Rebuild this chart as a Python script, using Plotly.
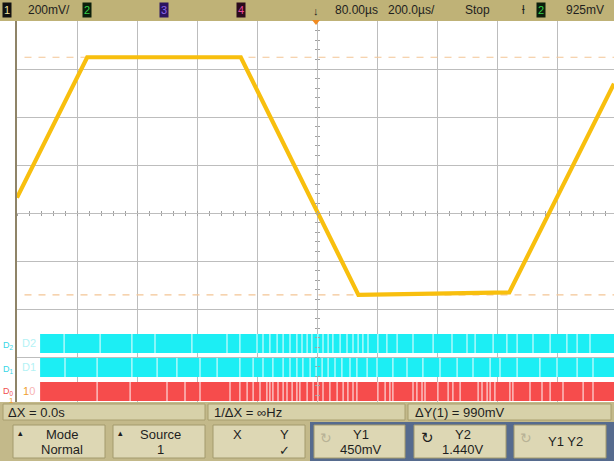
import plotly.graph_objects as go

W, H = 614, 461

# channel 1 analog trace: time [us], volts
t_us  = [-1000, -766, -254, 138, 641, 990]
ch1_v = [0.855, 1.44, 1.44, 0.45, 0.46, 1.33]

# Y cursors [V]
cursor_y1 = 0.45
cursor_y2 = 1.44

# digital channels: record window and edge times [us]
dig_t0, dig_t1 = -923, 990
d2_edges = [-843, -723, -617, -540, -417, -300, -257, -200, -180, -157, -133, -113, -90, -67, -50,
            -33, -17, 3, 20, 37, 53, 77, 100, 120, 137, 153, 170, 203, 233, 267, 320, 387, 450,
            500, 527, 587, 633, 667, 720, 777, 833, 867, 910]
d1_edges = [-840, -733, -617, -533, -467, -390, -333, -257, -213, -180, -147, -113, -90, -67, -47,
            -23, -3, 17, 37, 60, 83, 110, 133, 167, 200, 253, 300, 353, 410, 467, 520, 577, 610,
            667, 743, 800, 867, 920]
d0_edges = [-733, -623, -500, -440, -390, -290, -257, -233, -213, -190, -167, -157, -147, -130,
            -113, -100, -83, -67, -57, -33, -13, 3, 20, 43, 67, 87, 103, 120, 133, 203, 227, 243,
            253, 320, 333, 350, 360, 403, 437, 453, 477, 537, 550, 567, 577, 593, 643, 653, 710,
            750, 777, 820, 887, 920]
lanes = [("D0", 0, d0_edges, "#f64c4c"), ("D1", 1, d1_edges, "#1ceef4"), ("D2", 2, d2_edges, "#1ceef4")]

FONT = "Liberation Sans Narrow, Arial Narrow, Liberation Sans, sans-serif"

def px(x):
    return x / W

def py(y):
    return 1 - y / H

fig = go.Figure()

# digital lanes (drawn first, under the analog trace)
for name, lane, edges, col in lanes:
    lo, hi = lane - 0.4, lane + 0.4
    fig.add_trace(go.Scatter(x=[dig_t0, dig_t1, dig_t1, dig_t0, dig_t0], y=[lo, lo, hi, hi, lo],
                             fill="toself", fillcolor=col, mode="lines", line=dict(width=0),
                             yaxis="y2", hoverinfo="skip", showlegend=False))
    ex, ey = [], []
    for e in edges:
        ex += [e, e, None]
        ey += [lo, hi, None]
    fig.add_trace(go.Scatter(x=ex, y=ey, mode="lines", line=dict(color="rgba(255,255,255,0.8)", width=1.2),
                             yaxis="y2", hoverinfo="skip", showlegend=False))

# cursors
for cv in [cursor_y1, cursor_y2]:
    fig.add_trace(go.Scatter(x=[-975, 990], y=[cv, cv], mode="lines",
                             line=dict(color="#f3c595", width=1.2, dash="7px,7px"),
                             hoverinfo="skip", showlegend=False))

# channel 1
fig.add_trace(go.Scatter(x=t_us, y=ch1_v, mode="lines", line=dict(color="#f8bf0e", width=4.2),
                         showlegend=False))

# empty traces so the centre tick axes get drawn
for xa, ya in [("x2", "y"), ("x3", "y"), ("x", "y3"), ("x", "y4")]:
    fig.add_trace(go.Scatter(x=[], y=[], xaxis=xa, yaxis=ya, showlegend=False, hoverinfo="skip"))

xr = [-1000, 990]
yr = [-0.009, 1.591]
xdom = [px(17), 1]
ydom = [py(405), py(21)]

fig.update_layout(
    width=W, height=H, margin=dict(l=0, r=0, t=0, b=0),
    paper_bgcolor="white", plot_bgcolor="white",
    xaxis=dict(domain=xdom, range=xr, tick0=0, dtick=200, showgrid=True, gridcolor="#bdbdbd",
               gridwidth=1, zeroline=False, showticklabels=False, ticks=""),
    yaxis=dict(domain=ydom, range=yr, tick0=0.791, dtick=0.2, showgrid=True, gridcolor="#bdbdbd",
               gridwidth=1, zeroline=False, showticklabels=False, ticks="",
               showline=True, linecolor="#8f8468", linewidth=1.5),
    yaxis2=dict(overlaying="y", range=[-0.5625, 15.4375], visible=False),
    xaxis2=dict(overlaying="x", anchor="free", position=py(213), range=xr, tick0=0, dtick=40,
                ticks="outside", ticklen=2, tickcolor="#a0a0a0", showticklabels=False,
                showgrid=False, zeroline=False, showline=False),
    xaxis3=dict(overlaying="x", anchor="free", position=py(213), range=xr, tick0=0, dtick=40,
                ticks="inside", ticklen=2, tickcolor="#a0a0a0", showticklabels=False,
                showgrid=False, zeroline=False, showline=False),
    yaxis3=dict(overlaying="y", anchor="free", position=px(317), range=yr, tick0=0.791, dtick=0.04,
                ticks="outside", ticklen=2, tickcolor="#a0a0a0", showticklabels=False,
                showgrid=False, zeroline=False, showline=False),
    yaxis4=dict(overlaying="y", anchor="free", position=px(317), range=yr, tick0=0.791, dtick=0.04,
                ticks="inside", ticklen=2, tickcolor="#a0a0a0", showticklabels=False,
                showgrid=False, zeroline=False, showline=False),
)

shapes = []
def rect(x0, y0, x1, y1, fill, line=None, lw=1):
    shapes.append(dict(type="rect", xref="paper", yref="paper", x0=px(x0), x1=px(x1), y0=py(y1), y1=py(y0),
                       fillcolor=fill, line=dict(color=line or fill, width=lw if line else 0), layer="above"))

# top status bar
rect(0, 0, W, 21, "#bfb277")
# bottom panel
rect(0, 402, W, H, "#c3b98a")
rect(3, 404, 205, 420, "#d7d1a9", "#a89e6e")
rect(208, 404, 405, 420, "#d7d1a9", "#a89e6e")
rect(408, 404, 611, 420, "#d7d1a9", "#a89e6e")
rect(310, 422, W, H, "#566b8e")
for x0, x1 in [(13, 105), (113, 205), (213, 305), (314, 405), (414, 506), (514, 606)]:
    rect(x0, 425, x1, 458, "#ddd7b4", "#a39a6c")
# time reference marker
shapes.append(dict(type="path", xref="paper", yref="paper",
                   path=f"M {px(312)} {py(20)} L {px(320)} {py(20)} L {px(316)} {py(25)} Z",
                   fillcolor="#f08a20", line=dict(width=0), layer="above"))
fig.update_layout(shapes=shapes)

ann = []
def txt(x, y, s, size=12, color="#1e1e1e", bg=None, xanchor="center", family=FONT):
    d = dict(xref="paper", yref="paper", x=px(x), y=py(y), text=s, showarrow=False,
             xanchor=xanchor, yanchor="middle", font=dict(family=family, size=size, color=color))
    if bg:
        d.update(bgcolor=bg, borderpad=1)
    ann.append(d)

# top bar text
txt(7, 10, "1", 11, "#f0e2a0", "#111111")
txt(49, 10, "200mV/", 12)
txt(87, 10, "2", 11, "#36d04a", "#0b1e0b")
txt(164, 10, "3", 11, "#8a68ea", "#2c1460")
txt(241, 10, "4", 11, "#e8489a", "#2a0a1c")
txt(316, 11, "↓", 11, "#1e1e1e")
txt(356, 10, "80.00µs", 12)
txt(411, 10, "200.0µs/", 12)
txt(477, 10, "Stop", 12)
txt(523, 10, "ƚ", 12)
txt(541, 10, "2", 11, "#36d04a", "#0b1e0b")
txt(585, 10, "925mV", 12)

# lane labels
txt(29, 343, "D2", 11, "#b4f2f5")
txt(29, 367, "D1", 11, "#b4f2f5")
txt(29, 391, "<span style='color:#f0a030'>1</span><span style='color:#f7b4b4'>0</span>", 11)
txt(8, 345, "D<sub>2</sub>", 9, "#37d6e6")
txt(8, 369, "D<sub>1</sub>", 9, "#37d6e6")
txt(8, 391, "D<sub>0</sub>", 9, "#f05050")
txt(11, 400, "1", 8, "#f0a020")

# readouts
txt(6, 412, "ΔX = 0.0s", 13, xanchor="left")
txt(212, 412, "1/ΔX = ∞Hz", 13, xanchor="left")
txt(413, 412, "ΔY(1) = 990mV", 13, xanchor="left")

# softkeys
txt(20, 433, "▴", 9)
txt(62, 434, "Mode", 13)
txt(62, 449, "Normal", 13)
txt(120, 433, "▴", 9)
txt(160, 434, "Source", 13)
txt(160, 449, "1", 13)
txt(237, 434, "X", 13)
txt(284, 434, "Y", 13)
txt(284, 450, "✓", 13)
txt(326, 438, "↻", 14, "#b8b296")
txt(361, 434, "Y1", 13)
txt(361, 449, "450mV", 13)
txt(427, 437, "↻", 15, "#1e1e1e")
txt(463, 434, "Y2", 13)
txt(463, 449, "1.440V", 13)
txt(526, 438, "↻", 14, "#b8b296")
txt(565, 441, "Y1 Y2", 13)

fig.update_layout(annotations=ann)

fig.write_html("out.html", config={"displayModeBar": False},
               post_script="document.body.style.margin='0';document.body.style.overflow='hidden';")
